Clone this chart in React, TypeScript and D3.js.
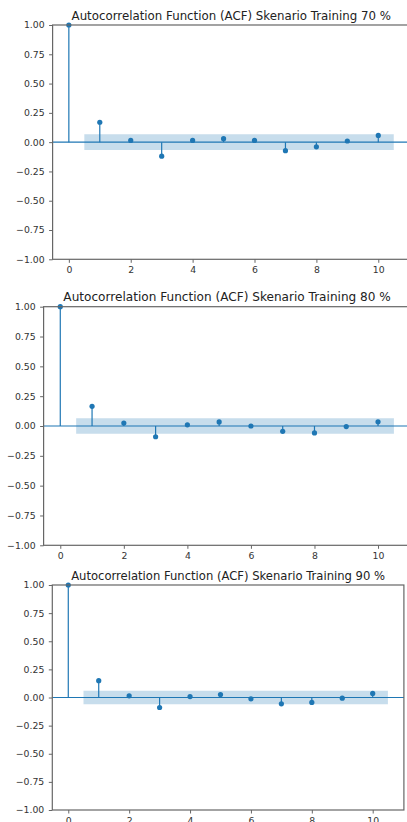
import * as d3 from 'd3';
import { useEffect, useRef } from 'react';

const lags = [0, 1, 2, 3, 4, 5, 6, 7, 8, 9, 10];
const xTicks = [0, 2, 4, 6, 8, 10];
const yTicks = [-1, -0.75, -0.5, -0.25, 0, 0.25, 0.5, 0.75, 1];

const titles = [
    'Autocorrelation Function (ACF) Skenario Training 70 %',
    'Autocorrelation Function (ACF) Skenario Training 80 %',
    'Autocorrelation Function (ACF) Skenario Training 90 %'
];
const acf70 = [1.0, 0.17, 0.015, -0.12, 0.015, 0.03, 0.015, -0.073, -0.04, 0.01, 0.057];
const acf80 = [1.0, 0.165, 0.025, -0.09, 0.01, 0.034, 0.0, -0.045, -0.058, -0.005, 0.035];
const acf90 = [1.0, 0.15, 0.015, -0.089, 0.008, 0.026, -0.012, -0.056, -0.044, -0.006, 0.036];
const confBand = [0.067, 0.064, 0.059];

export default function App() {

    const ref = useRef(null);

    useEffect(() => {
        document.body.style.margin = '0';

        const width = 407;
        const height = 822;
        const blue = '#1f77b4';
        const spineColor = '#666';
        const textColor = '#333';
        const font = 'DejaVu Sans';

        // one box per screenshot, each was scaled a little differently
        const panels = [
            { values: acf70, left: 52.6, right: 410.0, top: 25, bottom: 259.3, titleSize: 11.8 },
            { values: acf80, left: 43.6, right: 410.6, top: 306.7, bottom: 545.3, titleSize: 12.1 },
            { values: acf90, left: 52.3, right: 403.9, top: 585, bottom: 810, titleSize: 11.6 }
        ];

        const svg = d3.select(ref.current)
            .attr('width', width)
            .attr('height', height)
            .style('display', 'block');

        svg.selectAll('*').remove();

        panels.forEach((p, i) => {
            const x = d3.scaleLinear().domain([-0.525, 11.025]).range([p.left, p.right]);
            const y = d3.scaleLinear().domain([-1, 1]).range([p.bottom, p.top]);
            const g = svg.append('g');

            // confidence band
            const band = confBand[i];
            const area = d3.area()
                .x(d => x(d))
                .y0(y(-band))
                .y1(y(band));
            g.append('path')
                .datum([0.5, 10.5])
                .attr('d', area)
                .attr('fill', blue)
                .attr('fill-opacity', 0.25);

            // zero line
            g.append('line')
                .attr('x1', p.left).attr('x2', p.right)
                .attr('y1', y(0)).attr('y2', y(0))
                .attr('stroke', blue)
                .attr('stroke-width', 1.2);

            // stems
            g.selectAll('line.stem')
                .data(lags)
                .join('line')
                .attr('class', 'stem')
                .attr('x1', d => x(d)).attr('x2', d => x(d))
                .attr('y1', y(0))
                .attr('y2', d => y(p.values[d]))
                .attr('stroke', blue)
                .attr('stroke-width', 1.2);

            g.selectAll('circle')
                .data(lags)
                .join('circle')
                .attr('cx', d => x(d))
                .attr('cy', d => y(p.values[d]))
                .attr('r', 2.6)
                .attr('fill', blue);

            // spines
            g.append('rect')
                .attr('x', p.left).attr('y', p.top)
                .attr('width', p.right - p.left)
                .attr('height', p.bottom - p.top)
                .attr('fill', 'none')
                .attr('stroke', spineColor)
                .attr('stroke-width', 1.2);

            // y axis
            const yAxis = d3.axisLeft(y)
                .tickValues(yTicks)
                .tickSize(3.5)
                .tickPadding(4.5)
                .tickFormat(d => d3.format('.2f')(d).replace('-', '\u2212'));
            const ya = g.append('g')
                .attr('transform', `translate(${p.left},0)`)
                .call(yAxis);
            ya.select('.domain').remove();
            ya.selectAll('line').attr('stroke', spineColor);
            ya.selectAll('text')
                .attr('font-family', font)
                .attr('font-size', 9.3)
                .attr('fill', textColor);

            // x axis
            const xAxis = d3.axisBottom(x)
                .tickValues(xTicks)
                .tickSize(3.5)
                .tickPadding(3.5)
                .tickFormat(d3.format('d'));
            const xa = g.append('g')
                .attr('transform', `translate(0,${p.bottom})`)
                .call(xAxis);
            xa.select('.domain').remove();
            xa.selectAll('line').attr('stroke', spineColor);
            xa.selectAll('text')
                .attr('font-family', font)
                .attr('font-size', 9.3)
                .attr('fill', textColor);

            // title
            g.append('text')
                .attr('x', (p.left + p.right) / 2)
                .attr('y', p.top - 5.5)
                .attr('text-anchor', 'middle')
                .attr('font-family', font)
                .attr('font-size', p.titleSize)
                .attr('fill', '#222')
                .text(titles[i]);
        });

    }, []);

    return (
        <div style={{ width: 407 }}>
            <svg ref={ref}></svg>
        </div>
    );
}
